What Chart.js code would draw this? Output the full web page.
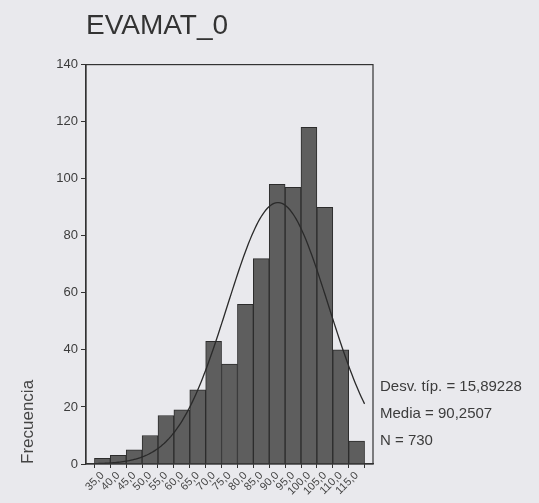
<!DOCTYPE html>
<html>
<head>
<meta charset="utf-8">
<script src="https://cdn.jsdelivr.net/npm/chart.js@4.4.1/dist/chart.umd.min.js"></script>
<style>
  body { margin: 0; background: #e9e9ed; }
  canvas { display: block; }
</style>
</head>
<body>
<canvas id="histEvamat" width="539" height="503"></canvas>
<script>
// centros de intervalo (ancho 5) y frecuencias del histograma
var centros = [35, 40, 45, 50, 55, 60, 65, 70, 75, 80, 85, 90, 95, 100, 105, 110, 115];
var frecuencias = [2, 3, 5, 10, 17, 19, 26, 43, 35, 56, 72, 98, 97, 118, 90, 40, 8];
var ticksY = [0, 20, 40, 60, 80, 100, 120, 140];

// estadísticos de la variable
var media = 90.2507;
var desvTip = 15.89228;
var nCasos = 730;
var ancho = 5;

function coma(v, dec) {
    return v.toFixed(dec).replace('.', ',');
}

var barras = centros.map(function(c, i) {
    return { x: c, y: frecuencias[i] };
});

// curva normal con la media, desviación y N de arriba
var curva = [];
var k = nCasos * ancho / (desvTip * Math.sqrt(2 * Math.PI));
for (var x = centros[0] - ancho / 2; x <= centros[centros.length - 1] + ancho / 2; x += 0.5) {
    var z = (x - media) / desvTip;
    curva.push({ x: x, y: k * Math.exp(-z * z / 2) });
}

var textos = [
    'Desv. típ. = ' + coma(desvTip, 5),
    'Media = ' + coma(media, 4),
    'N = ' + nCasos
];

// marco del gráfico y cuadro de estadísticos a la derecha
var marco = {
    id: 'marco',
    afterDatasetsDraw: function(chart) {
        var ctx = chart.ctx, a = chart.chartArea;
        ctx.save();
        ctx.strokeStyle = '#333';
        ctx.lineWidth = 1.2;
        ctx.strokeRect(a.left, a.top, a.right - a.left, a.bottom - a.top);
        ctx.font = '15px "Liberation Sans", Arial, sans-serif';
        ctx.fillStyle = '#3c3c3c';
        ctx.textBaseline = 'middle';
        textos.forEach(function(t, i) {
            ctx.fillText(t, a.right + 7, a.bottom - 77 + i * 27);
        });
        ctx.restore();
    }
};

var lienzo = document.getElementById("histEvamat");
var grafico = new Chart(lienzo, {
    data: {
        datasets: [{
            type: 'line',
            data: curva,
            borderColor: '#2a2a2a',
            borderWidth: 1.3,
            pointRadius: 0,
            order: 0
        }, {
            type: 'bar',
            data: barras,
            backgroundColor: '#5e5e5e',
            borderColor: '#2c2c2c',
            borderWidth: 1,
            barPercentage: 1,
            categoryPercentage: 1,
            order: 1
        }]
    },
    options: {
        responsive: false,
        animation: false,
        layout: {
            padding: { left: 0, right: 166, top: 0, bottom: 0 }
        },
        plugins: {
            legend: { display: false },
            tooltip: { enabled: false },
            title: {
                display: true,
                text: 'EVAMAT_0',
                align: 'start',
                fullSize: false,
                color: '#333',
                font: { family: '"Liberation Sans", Arial, sans-serif', size: 28, weight: 'normal' },
                padding: { top: 9, bottom: 22 }
            }
        },
        scales: {
            x: {
                type: 'linear',
                min: centros[0] - ancho / 2,
                max: centros[centros.length - 1] + ancho / 2,
                afterBuildTicks: function(axis) {
                    axis.ticks = centros.map(function(c) { return { value: c }; });
                },
                afterFit: function(axis) { axis.height = 39; },
                grid: { drawOnChartArea: false, tickLength: 4, color: '#333' },
                border: { color: '#333', width: 1.2 },
                ticks: {
                    autoSkip: false,
                    minRotation: 45,
                    maxRotation: 45,
                    padding: 1,
                    color: '#444',
                    font: { family: '"Liberation Sans", Arial, sans-serif', size: 11 },
                    callback: function(v) { return coma(v, 1); }
                }
            },
            y: {
                min: 0,
                max: 140,
                afterBuildTicks: function(axis) {
                    axis.ticks = ticksY.map(function(v) { return { value: v }; });
                },
                afterFit: function(axis) { axis.width = 86; },
                grid: { drawOnChartArea: false, tickLength: 5, color: '#333' },
                border: { color: '#333', width: 1.2 },
                ticks: {
                    padding: 3,
                    color: '#3c3c3c',
                    font: { family: '"Liberation Sans", Arial, sans-serif', size: 13 }
                },
                title: {
                    display: true,
                    text: 'Frecuencia',
                    align: 'start',
                    color: '#444',
                    font: { family: '"Liberation Sans", Arial, sans-serif', size: 17 },
                    padding: { top: 18, bottom: 0 }
                }
            }
        }
    },
    plugins: [marco]
});
</script>
</body>
</html>
